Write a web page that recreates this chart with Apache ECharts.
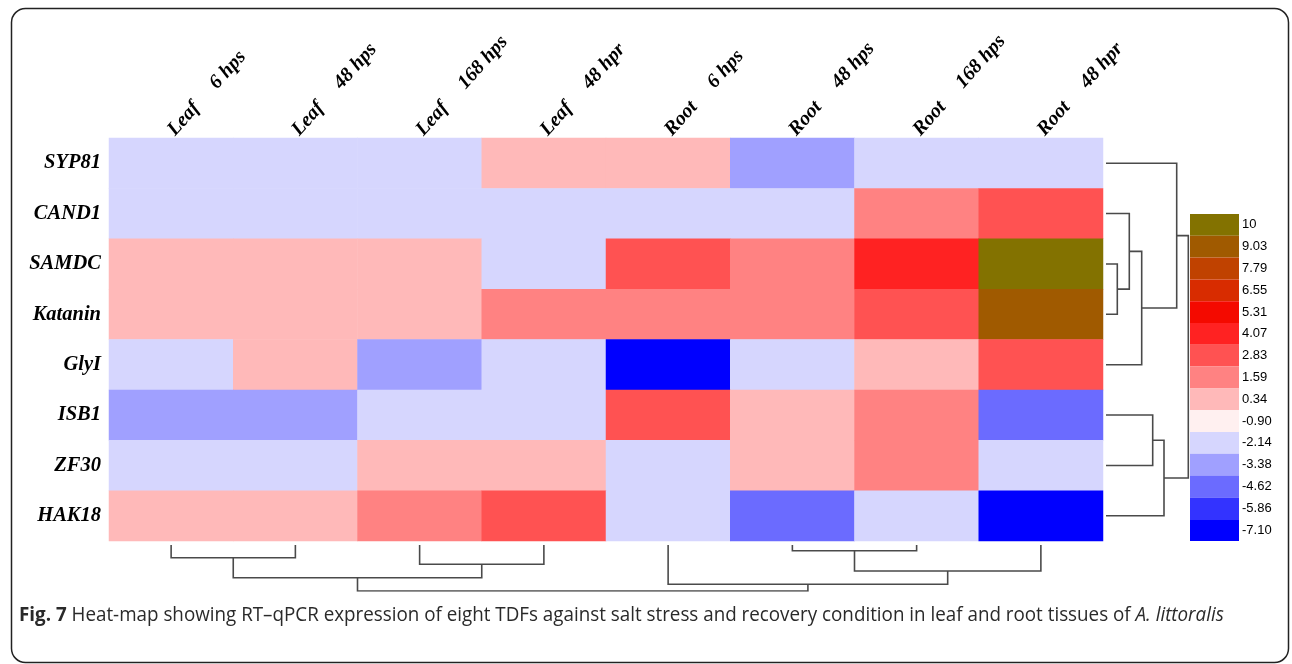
<html>
<head>
  <meta charset="utf-8">
  <title>Heat-map RT-qPCR</title>
  <script src="https://cdn.jsdelivr.net/npm/echarts@6/dist/echarts.min.js"></script>
</head>
<body style="margin:0;background:#fff">
  <div id="main" style="width:1292px;height:664px;"></div>
  <script type="text/javascript">
    // genes (rows) and conditions (columns)
    var genes = ['SYP81', 'CAND1', 'SAMDC', 'Katanin', 'GlyI', 'ISB1', 'ZF30', 'HAK18'];
    var conditions = ['Leaf     6 hps', 'Leaf     48 hps', 'Leaf     168 hps', 'Leaf     48 hpr',
                      'Root     6 hps', 'Root     48 hps', 'Root     168 hps', 'Root     48 hpr'];

    // expression per gene, one value per condition
    var SYP81   = [-1.5, -1.5, -1.5, 1.0, 1.0, -2.8, -1.5, -1.5];
    var CAND1   = [-1.5, -1.5, -1.5, -1.5, -1.5, -1.5, 2.2, 3.4];
    var SAMDC   = [1.0, 1.0, 1.0, -1.5, 3.4, 2.2, 4.7, 10];
    var Katanin = [1.0, 1.0, 1.0, 2.2, 2.2, 2.2, 3.4, 9.5];
    var GlyI    = [-1.5, 1.0, -2.8, -1.5, -7.1, -1.5, 1.0, 3.4];
    var ISB1    = [-2.8, -2.8, -1.5, -1.5, 3.4, 1.0, 2.2, -4.0];
    var ZF30    = [-1.5, -1.5, 1.0, 1.0, -1.5, 1.0, 2.2, -1.5];
    var HAK18   = [1.0, 1.0, 2.2, 3.4, -1.5, -4.0, -1.5, -7.1];
    var matrix = [SYP81, CAND1, SAMDC, Katanin, GlyI, ISB1, ZF30, HAK18];

    // colour key
    var keyBreaks = [-7.10, -5.86, -4.62, -3.38, -2.14, -0.90, 0.34, 1.59, 2.83, 4.07, 5.31, 6.55, 7.79, 9.03, 10];
    var keyLabels = ['-7.10', '-5.86', '-4.62', '-3.38', '-2.14', '-0.90', '0.34', '1.59', '2.83', '4.07', '5.31', '6.55', '7.79', '9.03', '10'];
    var keyColors = ['#0000ff', '#3333ff', '#6b6bff', '#a0a0ff', '#d6d6fe', '#fff0f0', '#ffb9b9', '#ff8282', '#ff5252',
                     '#ff2222', '#f40a00', '#d82c00', '#c04200', '#a05a00', '#837200'];

    // clustering: [childA, childB, height]; leaves are 0..7, merged nodes get 8, 9, ...
    var geneTree = [[2, 3, 11.3], [1, 8, 23.3], [9, 4, 35.7], [0, 10, 70.7], [5, 6, 46.7], [12, 7, 58], [11, 13, 82.3]];
    var condTree = [[0, 1, 12.7], [2, 3, 19.3], [8, 9, 32.7], [5, 6, 5.7], [11, 7, 26], [4, 12, 39.3], [10, 13, 46]];

    var heatData = [];
    for (var r = 0; r < genes.length; r++) {
      for (var c = 0; c < conditions.length; c++) {
        heatData.push([c, r, matrix[r][c]]);
      }
    }

    var pieces = [];
    for (var i = 0; i < keyBreaks.length; i++) {
      var p = { gte: keyBreaks[i], color: keyColors[i], label: keyLabels[i] };
      if (i < keyBreaks.length - 1) p.lt = keyBreaks[i + 1];
      pieces.push(p);
    }

    // turn merges into U-shaped polylines; flip swaps (pos, height) for the row tree
    function treeLines(tree, nLeaves, flip) {
      var pos = [], hgt = [], out = [];
      for (var k = 0; k < nLeaves; k++) { pos.push(k + 0.5); hgt.push(0); }
      tree.forEach(function (m) {
        var a = m[0], b = m[1], h = m[2];
        var pts = [[pos[a], hgt[a]], [pos[a], h], [pos[b], h], [pos[b], hgt[b]]];
        if (flip) pts = pts.map(function (q) { return [q[1], q[0]]; });
        out.push({ coords: pts });
        pos.push((pos[a] + pos[b]) / 2);
        hgt.push(h);
      });
      return out;
    }

    var serif = '"Liberation Serif", "Times New Roman", serif';
    var sans = '"Open Sans", sans-serif';
    var treeStyle = { color: '#4a4a4a', width: 1.6, opacity: 1 };

    var myChart = echarts.init(document.getElementById('main'));
    myChart.setOption({
      backgroundColor: '#fff',
      animation: false,
      grid: [
        { left: 109, top: 138, width: 994, height: 403 },
        { left: 1106, top: 138, width: 82.3, height: 403 },
        { left: 109, top: 545, width: 994, height: 46 }
      ],
      xAxis: [
        {
          type: 'category', gridIndex: 0, data: conditions, position: 'top',
          axisLine: { show: false }, axisTick: { show: false },
          axisLabel: { rotate: -48, margin: 5, interval: 0, color: '#000', fontFamily: serif, fontWeight: 'bold', fontStyle: 'italic', fontSize: 20 }
        },
        { type: 'value', gridIndex: 1, min: 0, max: 82.3, show: false },
        { type: 'value', gridIndex: 2, min: 0, max: 8, show: false }
      ],
      yAxis: [
        {
          type: 'category', gridIndex: 0, data: genes, inverse: true,
          axisLine: { show: false }, axisTick: { show: false },
          axisLabel: { margin: 8, color: '#000', fontFamily: serif, fontWeight: 'bold', fontStyle: 'italic', fontSize: 20.5 }
        },
        { type: 'value', gridIndex: 1, min: 0, max: 8, inverse: true, show: false },
        { type: 'value', gridIndex: 2, min: 0, max: 46, inverse: true, show: false }
      ],
      visualMap: {
        type: 'piecewise', seriesIndex: 0, pieces: pieces,
        orient: 'vertical', align: 'left', left: 1190, top: 214, padding: 0,
        itemWidth: 49, itemHeight: 21.8, itemGap: 0, itemSymbol: 'rect',
        textGap: 3, hoverLink: false, selectedMode: false,
        textStyle: { color: '#000', fontSize: 13, fontFamily: '"Liberation Sans", Arial, sans-serif', padding: [10, 0, 0, 0] }
      },
      series: [
        {
          type: 'heatmap', xAxisIndex: 0, yAxisIndex: 0, data: heatData,
          itemStyle: { borderWidth: 0 }, silent: true
        },
        {
          type: 'lines', coordinateSystem: 'cartesian2d', xAxisIndex: 1, yAxisIndex: 1,
          polyline: true, silent: true, lineStyle: treeStyle, data: treeLines(geneTree, 8, true)
        },
        {
          type: 'lines', coordinateSystem: 'cartesian2d', xAxisIndex: 2, yAxisIndex: 2,
          polyline: true, silent: true, lineStyle: treeStyle, data: treeLines(condTree, 8, false)
        }
      ],
      graphic: [
        {
          type: 'rect', left: 9, top: 6, silent: true,
          shape: { width: 1277, height: 654, r: 14 },
          style: { fill: null, stroke: '#222', lineWidth: 1.5 }
        },
        {
          type: 'text', x: 19, y: 605, scaleX: 0.94, silent: true,
          style: {
            text: '{b|Fig. 7} Heat-map showing RT\u2013qPCR expression of eight TDFs against salt stress and recovery condition in leaf and root tissues of {i|A. littoralis}',
            font: '20px ' + sans, fill: '#2a2a2a',
            rich: {
              b: { fontWeight: 'bold', fontSize: 20, fontFamily: sans, fill: '#2a2a2a' },
              i: { fontStyle: 'italic', fontSize: 20, fontFamily: sans, fill: '#2a2a2a' }
            }
          }
        }
      ]
    });
  </script>
</body>
</html>
